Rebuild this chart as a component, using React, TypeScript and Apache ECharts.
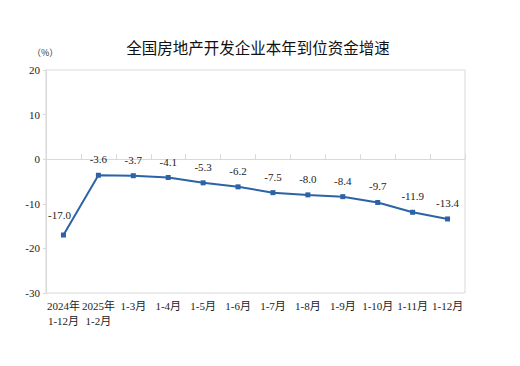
import React, { useEffect, useRef } from "react";
import * as echarts from "echarts";

const title = "全国房地产开发企业本年到位资金增速";
const unitLabel = "（%）";
const categories = [
  "2024年\n1-12月",
  "2025年\n1-2月",
  "1-3月",
  "1-4月",
  "1-5月",
  "1-6月",
  "1-7月",
  "1-8月",
  "1-9月",
  "1-10月",
  "1-11月",
  "1-12月",
];
const values = [-17.0, -3.6, -3.7, -4.1, -5.3, -6.2, -7.5, -8.0, -8.4, -9.7, -11.9, -13.4];
const yMin = -30;
const yMax = 20;
const yInterval = 10;

export default function App() {
  const ref = useRef<HTMLDivElement>(null);
  useEffect(() => {
    if (!ref.current) return;
    const chart = echarts.init(ref.current, undefined, { renderer: "svg" });
    const serif = "'Liberation Serif', 'Noto Sans CJK SC', serif";
    chart.setOption({
      animation: false,
      backgroundColor: "#ffffff",
      title: {
        text: title,
        left: 245,
        textAlign: "center",
        top: 26,
        textStyle: {
          fontSize: 15.5,
          fontWeight: "normal",
          color: "#111",
          fontFamily: "'Noto Sans CJK SC', sans-serif",
        },
      },
      graphic: [
        {
          type: "text",
          left: 24,
          top: 40,
          style: { text: unitLabel, fontSize: 9, fill: "#333", fontFamily: "'Noto Sans CJK SC', serif" },
        },
      ],
      grid: {
        left: 38,
        right: 47,
        top: 62,
        bottom: 65,
        show: true,
        borderColor: "#d9d9d9",
        borderWidth: 1,
      },
      xAxis: {
        type: "category",
        data: categories,
        boundaryGap: true,
        axisLine: { lineStyle: { color: "#d9d9d9" } },
        axisTick: { show: true, inside: true, length: 5, lineStyle: { color: "#d9d9d9" } },
        axisLabel: {
          color: "#222",
          fontSize: 11,
          fontFamily: serif,
          margin: 5,
          lineHeight: 15,
          interval: 0,
        },
        splitLine: { show: false },
      },
      yAxis: {
        type: "value",
        min: yMin,
        max: yMax,
        interval: yInterval,
        axisLine: { show: true, lineStyle: { color: "#d9d9d9" } },
        axisTick: { show: true, length: 3, lineStyle: { color: "#d9d9d9" } },
        axisLabel: { color: "#222", fontSize: 11, fontFamily: serif, margin: 6 },
        splitLine: { show: false },
      },
      series: [
        {
          type: "line",
          data: values.map((v, i) =>
            i === 0
              ? { value: v, label: { offset: [-4, -4] } }
              : { value: v }
          ),
          symbol: "rect",
          symbolSize: 5,
          lineStyle: { color: "#2c63a6", width: 2 },
          itemStyle: { color: "#2c63a6" },
          label: {
            show: true,
            position: "top",
            distance: 8,
            color: "#222",
            fontSize: 11,
            fontFamily: serif,
            formatter: (p: any) => p.value.toFixed(1),
          },
        },
      ],
    });
    return () => chart.dispose();
  }, []);
  return <div ref={ref} style={{ width: 504, height: 350 }} />;
}
